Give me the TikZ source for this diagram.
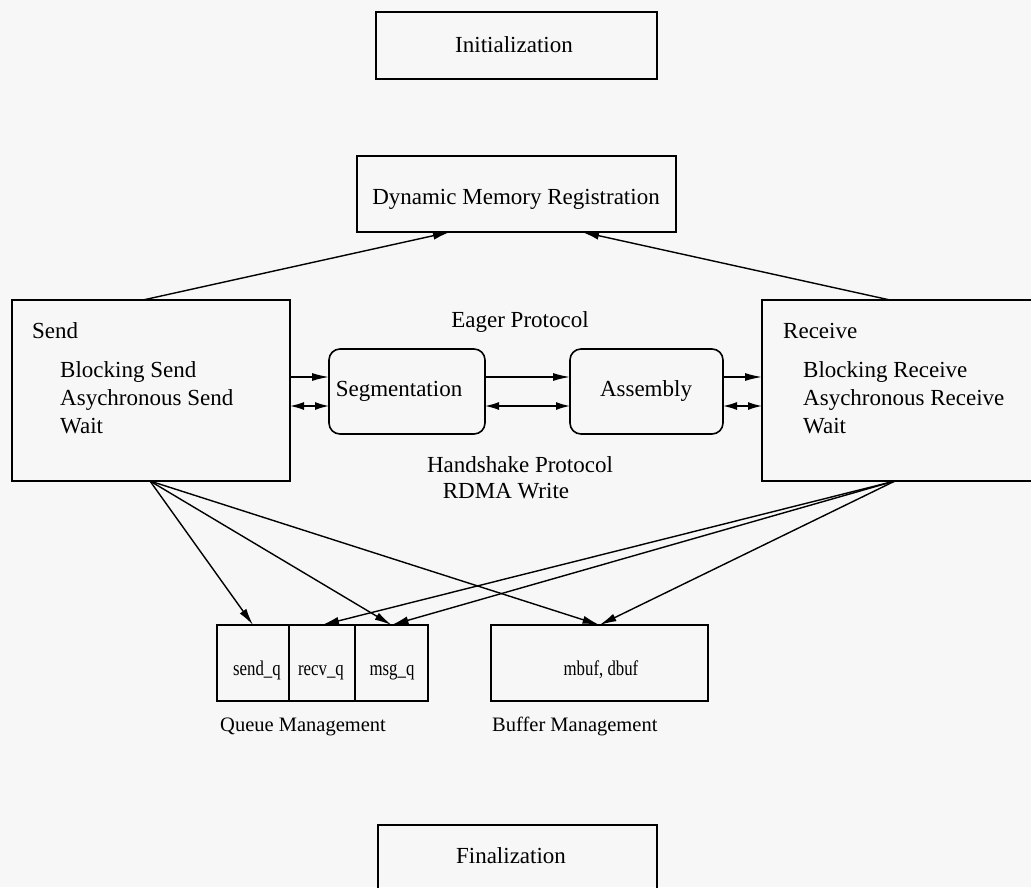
\documentclass[tikz,border=0pt]{standalone}
\usepackage{fontspec}
\setmainfont{Liberation Serif}
\newfontfamily\narrowserif[FakeStretch=0.8]{Liberation Serif}
\usetikzlibrary{arrows.meta,calc}
\definecolor{paper}{HTML}{F7F7F7}
\begin{document}
\begin{tikzpicture}[x=1pt,y=-1pt,
  font=\fontsize{23}{28}\selectfont,
  box/.style={draw, line width=1.6pt, inner sep=0pt, outer sep=0pt, anchor=north west},
  rbox/.style={box, rounded corners=11pt},
  txt/.style={inner sep=0pt, anchor=base},
  txtl/.style={inner sep=0pt, anchor=base west},
  cell/.style={txt, font=\narrowserif\fontsize{21}{25}\selectfont},
  note/.style={txtl, font=\fontsize{20.5}{24}\selectfont},
  arr/.style={line width=1.4pt, -{Latex[length=17pt,width=8pt]}},
  darr/.style={line width=1.4pt, {Latex[length=14pt,width=8pt]}-{Latex[length=14pt,width=8pt]}}]

\useasboundingbox (0,0) rectangle (1031,887);
\fill[paper] (0,0) rectangle (1031,887);
\clip (0,0) rectangle (1031,887);

% top boxes
\node[box, minimum width=281pt, minimum height=67pt] (init) at (376,12) {};
\node[txt] (initT) at (514,52) {Initialization};
\node[box, minimum width=319pt, minimum height=76pt] (dmr) at (357,156) {};
\node[txt] (dmrT) at (516,204) {Dynamic Memory Registration};

% send / receive
\node[box, minimum width=278pt, minimum height=181pt] (send) at (12,300) {};
\node[txtl] (sendT) at (32,338) {Send};
\node[txtl] (sendA) at (60,377) {Blocking Send};
\node[txtl] (sendB) at (60,405) {Asychronous Send};
\node[txtl] (sendC) at (60,433) {Wait};

\node[box, minimum width=290pt, minimum height=181pt] (recv) at (762,300) {};
\node[txtl] (recvT) at (783,338) {Receive};
\node[txtl] (recvA) at (803,377) {Blocking Receive};
\node[txtl] (recvB) at (803,405) {Asychronous Receive};
\node[txtl] (recvC) at (803,433) {Wait};

% protocol stages
\node[rbox, minimum width=156pt, minimum height=85pt] (seg) at (329,349) {};
\node[txt] (segT) at (399,396) {Segmentation};
\node[rbox, minimum width=153pt, minimum height=85pt] (asm) at (570,349) {};
\node[txt] (asmT) at (646,396) {Assembly};

\node[txt] (eager) at (520,327) {Eager Protocol};
\node[txt] (hand) at (520,472) {Handshake Protocol};
\node[txt] (rdma) at (506,498) {RDMA Write};

% queues and buffers
\node[box, minimum width=72pt, minimum height=76pt] (sendq) at (217,625) {};
\node[box, minimum width=66pt, minimum height=76pt] (recvq) at (289,625) {};
\node[box, minimum width=73pt, minimum height=76pt] (msgq) at (355,625) {};
\node[cell] (sendqT) at (257,675) {send\_q};
\node[cell] (recvqT) at (321,675) {recv\_q};
\node[cell] (msgqT) at (392,675) {msg\_q};
\node[note] (qm) at (220,731) {Queue Management};

\node[box, minimum width=217pt, minimum height=76pt] (buf) at (491,625) {};
\node[cell] (bufT) at (601,675) {mbuf, dbuf};
\node[note] (bm) at (492,731) {Buffer Management};

% finalization
\node[box, minimum width=279pt, minimum height=80pt] (fin) at (378,825) {};
\node[txt] (finT) at (511,863) {Finalization};

% rows of the horizontal connectors
\coordinate (hi) at (0,377);
\coordinate (lo) at (0,406);

% registration connectors
\draw[arr] ($(send.north west)+(131,0)$) -- ($(dmr.south west)+(93,0)$);
\draw[arr] ($(recv.north west)+(128,0)$) -- ($(dmr.south west)+(225,0)$);

% data path
\draw[arr]  (send.east |- hi) -- (seg.west |- hi);
\draw[darr] (send.east |- lo) -- (seg.west |- lo);
\draw[arr]  (seg.east |- hi) -- (asm.west |- hi);
\draw[darr] (seg.east |- lo) -- (asm.west |- lo);
\draw[arr]  (asm.east |- hi) -- (recv.west |- hi);
\draw[darr] (asm.east |- lo) -- (recv.west |- lo);

% queue and buffer usage
\coordinate (sendS) at ($(send.south west)+(138,0)$);
\coordinate (recvS) at ($(recv.south west)+(133,0)$);
\draw[arr] (sendS) -- (sendq.north);
\draw[arr] (sendS) -- (msgq.north);
\draw[arr] (sendS) -- (buf.north);
\draw[arr] (recvS) -- (recvq.north);
\draw[arr] (recvS) -- (msgq.north);
\draw[arr] (recvS) -- (buf.north);
\end{tikzpicture}
\end{document}
